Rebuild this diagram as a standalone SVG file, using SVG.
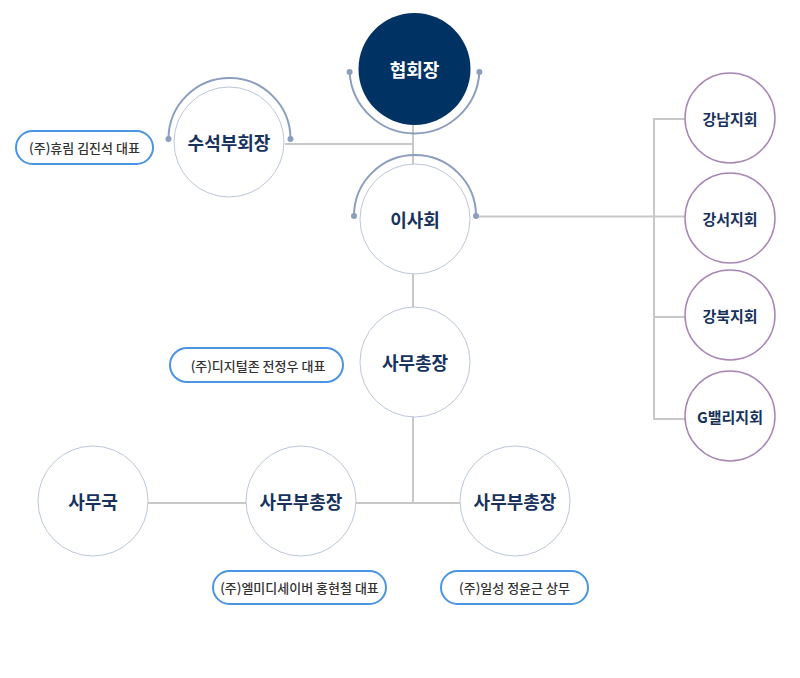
<svg xmlns="http://www.w3.org/2000/svg" width="800" height="678" viewBox="0 0 800 678">
<style>
.bg{fill:#ffffff}
.conn{stroke:#c8c8c8;stroke-width:2;fill:none}
.node{fill:#ffffff;stroke:#bcc6da;stroke-width:1}
.branch{fill:#ffffff;stroke:#a987b5;stroke-width:1.5}
.arc{fill:none;stroke:#8c9ebe;stroke-width:2}
.dot{fill:#8c9ebe}
.t{font-family:"Noto Sans CJK KR","Noto Sans",sans-serif;font-weight:700;fill:#17325c;text-anchor:middle;dominant-baseline:central}
.big{font-size:18px}
.small{font-size:15px}
.pill{fill:#ffffff;stroke:#4a94e4;stroke-width:2}
.pt{font-family:"Noto Sans CJK KR","Noto Sans",sans-serif;font-size:13px;font-weight:500;fill:#333333;text-anchor:middle;dominant-baseline:central}
</style>
<rect class="bg" x="0" y="0" width="800" height="678"/>
<g id="connectors">
<line class="conn" x1="413" y1="125" x2="413" y2="165"/>
<line class="conn" x1="285" y1="144" x2="413" y2="144"/>
<line class="conn" x1="476" y1="216.5" x2="654" y2="216.5"/>
<polyline class="conn" points="685,119 654,119 654,419 685,419"/>
<line class="conn" x1="654" y1="216.5" x2="685" y2="216.5"/>
<line class="conn" x1="654" y1="317" x2="685" y2="317"/>
<line class="conn" x1="413" y1="274" x2="413" y2="307"/>
<line class="conn" x1="413" y1="417" x2="413" y2="503"/>
<line class="conn" x1="148" y1="503" x2="460" y2="503"/>
</g>
<g id="president">
<circle cx="414.5" cy="69" r="56" fill="#003263"/>
<path class="arc" d="M349.6,72 A65,65 0 0 0 479.4,72"/>
<circle class="dot" cx="349.6" cy="72" r="3"/>
<circle class="dot" cx="479.4" cy="72" r="3"/>
<text class="t big" x="414.5" y="69" fill="#ffffff" style="fill:#ffffff">협회장</text>
</g>
<g id="senior-vp">
<circle class="node" cx="229" cy="142" r="55"/>
<path class="arc" d="M168.5,139 A61,61 0 0 1 290.5,139"/>
<circle class="dot" cx="168.5" cy="139" r="3"/>
<circle class="dot" cx="290.5" cy="139" r="3"/>
<text class="t big" x="229" y="142">수석부회장</text>
</g>
<g id="senior-vp-label">
<rect class="pill" x="16" y="131" width="137" height="33" rx="16.5"/>
<text class="pt" x="84.5" y="147.5">(주)휴림 김진석 대표</text>
</g>
<g id="board">
<circle class="node" cx="415" cy="219" r="55"/>
<path class="arc" d="M354,216 A61,61 0 0 1 476,216"/>
<circle class="dot" cx="354" cy="216" r="3"/>
<circle class="dot" cx="476" cy="216" r="3"/>
<text class="t big" x="415" y="219">이사회</text>
</g>
<g id="gangnam">
<circle class="branch" cx="730" cy="118" r="45"/>
<text class="t small" x="730" y="118">강남지회</text>
</g>
<g id="gangseo">
<circle class="branch" cx="730" cy="218" r="45"/>
<text class="t small" x="730" y="218">강서지회</text>
</g>
<g id="gangbuk">
<circle class="branch" cx="730" cy="315" r="45"/>
<text class="t small" x="730" y="315">강북지회</text>
</g>
<g id="gvalley">
<circle class="branch" cx="730" cy="416" r="45"/>
<text class="t small" x="730" y="416">G밸리지회</text>
</g>
<g id="secretary-general">
<circle class="node" cx="415" cy="362" r="55"/>
<text class="t big" x="415" y="362">사무총장</text>
</g>
<g id="secretary-general-label">
<rect class="pill" x="170" y="348" width="173" height="34" rx="17"/>
<text class="pt" x="258" y="365">(주)디지털존 전정우 대표</text>
</g>
<g id="secretariat">
<circle class="node" cx="93" cy="501" r="55"/>
<text class="t big" x="93" y="501">사무국</text>
</g>
<g id="deputy-1">
<circle class="node" cx="301" cy="501" r="55"/>
<text class="t big" x="301" y="501">사무부총장</text>
</g>
<g id="deputy-1-label">
<rect class="pill" x="213" y="571" width="173" height="33" rx="16.5"/>
<text class="pt" x="299.5" y="587.5">(주)엘미디세이버 홍현철 대표</text>
</g>
<g id="deputy-2">
<circle class="node" cx="515" cy="501" r="55"/>
<text class="t big" x="515" y="501">사무부총장</text>
</g>
<g id="deputy-2-label">
<rect class="pill" x="441" y="571" width="147" height="33" rx="16.5"/>
<text class="pt" x="514.5" y="587.5">(주)일성 정윤근 상무</text>
</g>
</svg>
